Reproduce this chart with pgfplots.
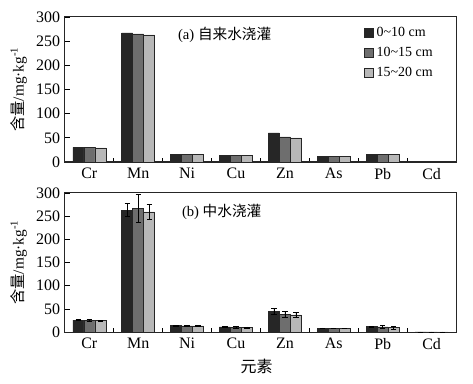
\documentclass[border=0pt]{standalone}
\usepackage{fontspec}
\setmainfont{Liberation Serif}
\newfontfamily\cjk{Noto Sans CJK SC}
\usepackage{pgfplots}
\pgfplotsset{compat=1.18}
\definecolor{c1}{HTML}{262626}
\definecolor{c2}{HTML}{6E6E6E}
\definecolor{c3}{HTML}{B8B8B8}
\pgfplotsset{
  myaxis/.style={
    scale only axis, width=294pt,
    ybar=0pt, bar width=0.225,
    xmin=-0.5, xmax=7.5, ymin=0, ymax=300,
    ytick={0,50,...,300},
    xtick={0,...,7},
    xticklabels={Cr,Mn,Ni,Cu,Zn,As,Pb,Cd},
    minor xtick={0.5,1.5,...,6.5},
    major x tick style={draw=none},
    tick pos=left, tick align=inside,
    major tick length=3.5pt, minor tick length=3pt,
    tick style={black, line width=0.6pt},
    axis line style={line width=0.8pt, black!85},
    /pgf/number format/assume math mode=true,
    yticklabel style={font=\fontsize{12}{14}\selectfont},
    xticklabel style={font=\fontsize{12}{14}\selectfont, yshift=-1pt},
    ylabel={{\cjk 含量}/mg·kg\textsuperscript{-1}},
    ylabel style={at={(axis description cs:-0.118,0.5)}, anchor=center, font=\fontsize{11.5}{13}\selectfont},
    every axis plot/.append style={draw=black!85, line width=0.4pt},
    error bars/error bar style={line width=0.5pt, black},
    error bars/error mark options={rotate=90, mark size=2pt, line width=0.5pt, black},
  }
}
\pgfplotstableread{
x a b c
0 30 30 29
1 267 265 263
2 16 16 16
3 14 13 14
4 60 52 50
5 11 11 12
6 16 16 16
7 0.8 0.8 0.8
}\tabA
\pgfplotstableread{
x a ea b eb c ec
0 26 1.5 25 1.5 24.5 1
1 263 14 266 30 259 17
2 14 0.5 13.5 0.8 13.5 0.5
3 11 1 10 1.5 9.5 1.5
4 45 7 38 6 37 5
5 8.5 0.5 8.5 0.5 8 0.5
6 12 1 11 3 10 3
7 0.4 0 0.4 0 0.4 0
}\tabB
\begin{document}
\begin{tikzpicture}
\path[use as bounding box] (-48.75pt,-166.5pt) rectangle (306.75pt,121.75pt);
\begin{axis}[myaxis, height=109pt, at={(0pt,0pt)}, anchor=south west,
  legend style={draw=none, fill=none, at={(rel axis cs:0.765,0.95)}, anchor=north west,
    font=\fontsize{10.5}{12.6}\selectfont, row sep=2.5pt, inner sep=0pt, cells={anchor=west}},
  legend image code/.code={\draw[#1, line width=0.4pt] (0pt,-3.4pt) rectangle (6.8pt,3.4pt);},
]
\addplot[fill=c1, bar shift=-0.225] table[x=x, y=a] {\tabA};
\addplot[fill=c2, bar shift=0] table[x=x, y=b] {\tabA};
\addplot[fill=c3, bar shift=0.225] table[x=x, y=c] {\tabA};
\legend{0\textasciitilde 10 cm, 10\textasciitilde 15 cm, 15\textasciitilde 20 cm}
\node[anchor=west, font=\fontsize{11}{13}\selectfont] at (axis cs:1.72,263) {(a) {\cjk 自来水浇灌}};
\end{axis}
\begin{axis}[myaxis, height=104.6pt, at={(0pt,-23.25pt)}, anchor=north west,
  xlabel={\cjk 元素},
  xlabel style={at={(axis description cs:0.49,0)}, yshift=-25.5pt, anchor=center, font=\fontsize{12}{14}\selectfont},
]
\addplot[fill=c1, bar shift=-0.225, error bars/.cd, y dir=both, y explicit] table[x=x, y=a, y error=ea] {\tabB};
\addplot[fill=c2, bar shift=0, error bars/.cd, y dir=both, y explicit] table[x=x, y=b, y error=eb] {\tabB};
\addplot[fill=c3, bar shift=0.225, error bars/.cd, y dir=both, y explicit] table[x=x, y=c, y error=ec] {\tabB};
\node[anchor=west, font=\fontsize{11}{13}\selectfont] at (axis cs:1.8,259) {(b) {\cjk 中水浇灌}};
\end{axis}
\end{tikzpicture}
\end{document}
